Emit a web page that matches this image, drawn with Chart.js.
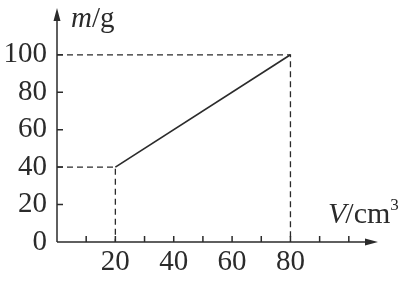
<!DOCTYPE html>
<html>
<head>
<meta charset="utf-8">
<script src="https://cdn.jsdelivr.net/npm/chart.js@4.4.1/dist/chart.umd.min.js"></script>
<style>
  html, body { margin: 0; padding: 0; background: #fff; }
  #wrap { width: 405px; height: 281px; }
</style>
</head>
<body>
<div id="wrap"><canvas id="chart"></canvas></div>
<script>
// data
const volume = [20, 80];      // V / cm3
const mass = [40, 100];       // m / g
const xTicks = [10, 20, 30, 40, 50, 60, 70, 80, 90, 100];
const xLabels = [20, 40, 60, 80];
const yTicks = [0, 20, 40, 60, 80, 100];

const ink = '#2b2b2b';
const serif = '"Liberation Serif", "DejaVu Serif", serif';

const linePoints = volume.map((v, i) => ({ x: v, y: mass[i] }));

// dashed guide lines from each end point to both axes
const guides = volume.map((v, i) => ({
  data: [{ x: 0, y: mass[i] }, { x: v, y: mass[i] }, { x: v, y: 0 }],
  borderColor: ink,
  borderWidth: 1.3,
  borderDash: [6, 4],
  pointRadius: 0,
  showLine: true,
  fill: false
}));

// axes with arrows, inward tick marks and the axis titles
const axesPlugin = {
  id: 'axes',
  afterDatasetsDraw(chart) {
    const { ctx, chartArea: a, scales } = chart;
    const x0 = a.left, y0 = a.bottom;
    ctx.save();
    ctx.strokeStyle = ink;
    ctx.fillStyle = ink;
    ctx.lineWidth = 1.5;
    ctx.beginPath();
    ctx.moveTo(x0, y0); ctx.lineTo(a.right - 4, y0);
    ctx.moveTo(x0, y0); ctx.lineTo(x0, a.top + 4);
    xTicks.forEach(v => {
      const px = scales.x.getPixelForValue(v);
      ctx.moveTo(px, y0); ctx.lineTo(px, y0 - 6);
    });
    yTicks.slice(1).forEach(v => {
      const py = scales.y.getPixelForValue(v);
      ctx.moveTo(x0, py); ctx.lineTo(x0 + 6, py);
    });
    ctx.stroke();

    // arrow heads
    ctx.beginPath();
    ctx.moveTo(a.right, y0); ctx.lineTo(a.right - 13, y0 - 3.5); ctx.lineTo(a.right - 13, y0 + 3.5);
    ctx.closePath();
    ctx.moveTo(x0, a.top); ctx.lineTo(x0 - 3.5, a.top + 13); ctx.lineTo(x0 + 3.5, a.top + 13);
    ctx.closePath();
    ctx.fill();

    // titles
    ctx.textBaseline = 'alphabetic';
    ctx.textAlign = 'left';
    let tx = 71, ty = 27;
    ctx.font = 'italic 29px ' + serif;
    ctx.fillText('m', tx, ty);
    tx += ctx.measureText('m').width;
    ctx.font = '29px ' + serif;
    ctx.fillText('/g', tx, ty);

    tx = 328; ty = 223;
    ctx.font = 'italic 30px ' + serif;
    ctx.fillText('V', tx, ty);
    tx += ctx.measureText('V').width - 1;
    ctx.font = '30px ' + serif;
    ctx.fillText('/cm', tx, ty);
    tx += ctx.measureText('/cm').width;
    ctx.font = '17px ' + serif;
    ctx.fillText('3', tx, ty - 13);
    ctx.restore();
  }
};

new Chart(document.getElementById('chart'), {
  type: 'scatter',
  data: {
    datasets: [
      {
        data: linePoints,
        borderColor: ink,
        borderWidth: 1.7,
        pointRadius: 0,
        showLine: true,
        fill: false
      },
      ...guides
    ]
  },
  options: {
    responsive: true,
    maintainAspectRatio: false,
    animation: false,
    events: [],
    layout: { padding: { top: 8, right: 27, left: 0, bottom: 0 } },
    plugins: {
      legend: { display: false },
      tooltip: { enabled: false }
    },
    scales: {
      x: {
        type: 'linear',
        min: 0,
        max: 110,
        afterBuildTicks: s => { s.ticks = xTicks.map(v => ({ value: v })); },
        afterFit: s => { s.height = 39; s.paddingLeft = 0; s.paddingRight = 0; },
        grid: { display: false, drawTicks: false },
        border: { display: false },
        ticks: {
          autoSkip: false,
          maxRotation: 0,
          padding: 3,
          color: ink,
          font: { family: serif, size: 29 },
          callback: v => (xLabels.includes(v) ? String(v) : '')
        }
      },
      y: {
        type: 'linear',
        min: 0,
        max: 125,
        afterBuildTicks: s => { s.ticks = yTicks.map(v => ({ value: v })); },
        afterFit: s => { s.width = 57; s.paddingTop = 0; s.paddingBottom = 0; },
        grid: { display: false, drawTicks: false },
        border: { display: false },
        ticks: {
          padding: 10,
          color: ink,
          font: { family: serif, size: 29 },
          callback: v => String(v)
        }
      }
    }
  },
  plugins: [axesPlugin]
});
</script>
</body>
</html>
